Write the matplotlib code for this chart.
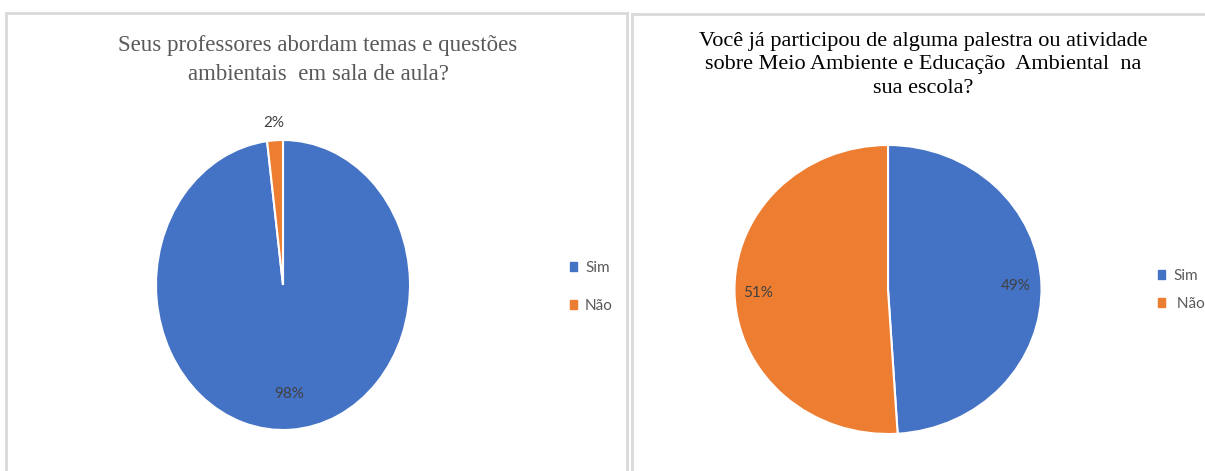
import numpy as np
import matplotlib
matplotlib.use("Agg")
import matplotlib.pyplot as plt
from matplotlib.patches import Patch
from matplotlib.lines import Line2D

# data
labels_left = ["Sim", "Não"]
values_left = [98, 2]
title_left = "Seus professores abordam temas e questões\nambientais  em sala de aula?"

labels_right = ["Sim", " Não"]
values_right = [49, 51]
title_right = ("Você já participou de alguma palestra ou atividade\n"
               "sobre Meio Ambiente e Educação  Ambiental  na\nsua escola?")

colors = ["#4472C4", "#ED7D31"]
W, H = 1205, 471

fig = plt.figure(figsize=(W / 100, H / 100), dpi=100)


def px_axes(cx, cy, rx, ry):
    return fig.add_axes([(cx - rx) / W, (H - cy - ry) / H, 2 * rx / W, 2 * ry / H])


def draw_pie(ax, values, label_r):
    wedges, _ = ax.pie(values, colors=colors, startangle=90, counterclock=False,
                       wedgeprops=dict(edgecolor="white", linewidth=1.5))
    ax.set_aspect("auto")
    ax.set_xlim(-1, 1)
    ax.set_ylim(-1, 1)
    total = sum(values)
    for w, v, r in zip(wedges, values, label_r):
        ang = np.deg2rad((w.theta1 + w.theta2) / 2)
        ax.text(r * np.cos(ang), r * np.sin(ang), f"{round(100 * v / total)}%",
                ha="center", va="center", fontsize=11, color="#404040",
                family="Lato")


def legend(labels, x, y, spacing):
    fig.legend(handles=[Patch(color=c, label=l) for c, l in zip(colors, labels)],
               loc="center left", bbox_to_anchor=(x / W, 1 - y / H), frameon=False,
               handlelength=0.5, handleheight=0.5, handletextpad=0.5,
               labelspacing=spacing, prop=dict(family="Lato", size=11),
               labelcolor="#595959")


# panel borders
border = "#d9d9d9"
for xs, ys in [([6, 6], [H, 13]), ([6, 627], [13, 13]), ([627, 627], [13, H]),
               ([632, 632], [H, 14]), ([632, W], [14, 14])]:
    fig.add_artist(Line2D([x / W for x in xs], [1 - y / H for y in ys],
                          color=border, linewidth=2))

# left chart
ax1 = px_axes(283, 285, 127, 145)
draw_pie(ax1, values_left, [0.75, 1.12])
fig.text(318 / W, 1 - 60 / H, title_left, ha="center", va="center",
         fontsize=16.5, color="#595959", family="Liberation Serif", linespacing=1.55)
legend(labels_left, 556, 287, 1.55)

# right chart
ax2 = px_axes(888, 289.5, 153.5, 144.5)
draw_pie(ax2, values_right, [0.83, 0.85])
fig.text(923 / W, 1 - 65 / H, title_right, ha="center", va="center",
         fontsize=16, color="black", family="Liberation Serif", linespacing=1.35)
legend(labels_right, 1144, 290, 0.95)

fig.savefig("out.png", dpi=100)
